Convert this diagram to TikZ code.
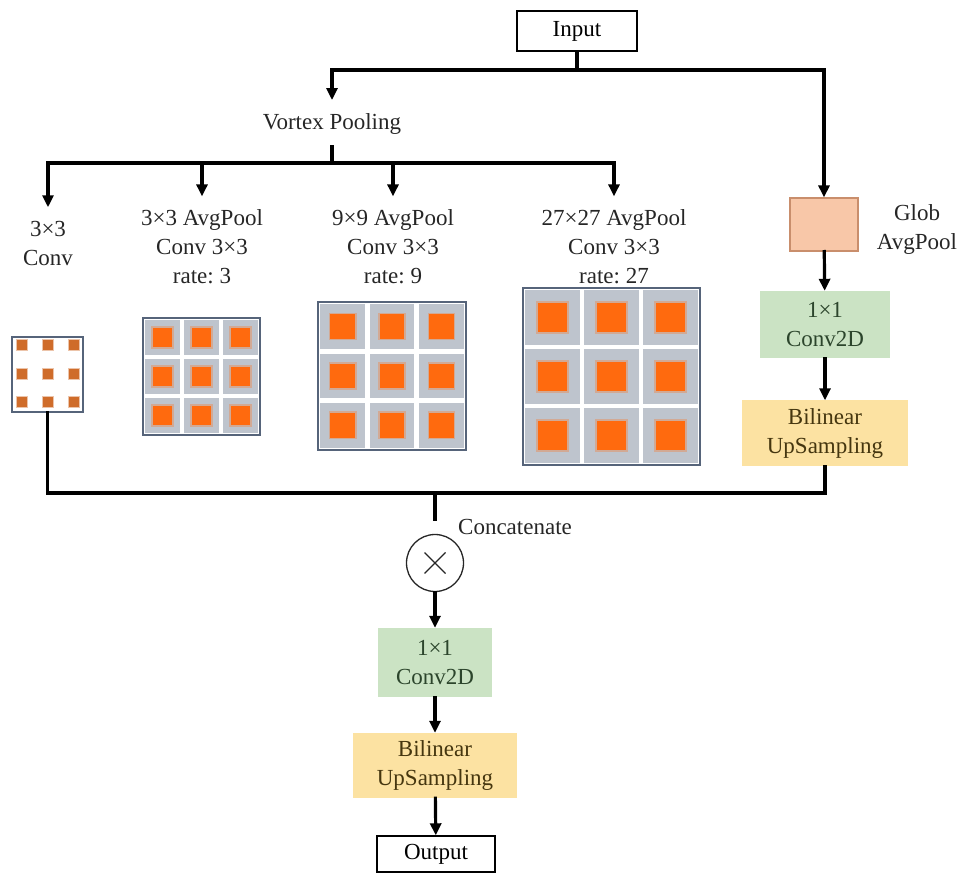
\documentclass[tikz,border=0pt]{standalone}
\usepackage{fontspec}
\setmainfont{Liberation Serif}
\usepackage{tikz}
\usetikzlibrary{arrows.meta, positioning, calc}
\usepackage{xcolor}
\definecolor{convgreen}{HTML}{CBE3C4}
\definecolor{convtext}{HTML}{2C452C}
\definecolor{upyellow}{HTML}{FCE2A2}
\definecolor{uptext}{HTML}{45360F}
\definecolor{globfill}{HTML}{F8C7A8}
\definecolor{globedge}{HTML}{C98E6C}
\definecolor{cellgrey}{HTML}{BEC4CD}
\definecolor{poolorange}{HTML}{FF6A0E}
\definecolor{dotbrown}{HTML}{CF6C2A}
\definecolor{gridedge}{HTML}{56647A}
\frenchspacing
\newcommand{\lblfont}{\fontsize{23}{29}\selectfont}
\tikzstyle{plain} = [rectangle, draw=black, line width=1.4pt, minimum width=120pt, minimum height=40pt,
    text centered, font=\lblfont]
\tikzstyle{conv} = [rectangle, fill=convgreen, minimum height=67pt, align=center,
    text=convtext, font=\lblfont]
\tikzstyle{upsmp} = [rectangle, fill=upyellow, minimum height=66pt, align=center,
    text=uptext, font=\lblfont]
\tikzstyle{glob} = [rectangle, fill=globfill, draw=globedge, line width=1.2pt,
    minimum width=68pt, minimum height=53pt]
\tikzstyle{gridbox} = [rectangle, draw=gridedge, line width=1.8pt, fill=white, inner sep=0pt]
\tikzstyle{arrow} = [line width=3.2pt, line cap=rect, -{Triangle[length=12pt,width=11pt]}]
\tikzstyle{line} = [line width=3.2pt, line cap=rect]
\tikzstyle{lbl} = [font=\lblfont, align=center, text=black!85, inner sep=3.3pt]
% one pooled feature map: name, centre x, centre y, size
\newcommand{\poolgrid}[4]{%
  \node (#1) [gridbox, minimum size=#4pt] at (#2,#3) {};
  \foreach \i in {0,1,2}{\foreach \j in {0,1,2}{
    \pgfmathsetmacro{\qx}{#2-#4/2+(\i+0.5)*#4/3}
    \pgfmathsetmacro{\qy}{#3-#4/2+(\j+0.5)*#4/3}
    \fill[cellgrey] (\qx-#4/6+2.2,\qy-#4/6+2.2) rectangle (\qx+#4/6-2.2,\qy+#4/6-2.2);
    \fill[poolorange!30!cellgrey] (\qx-#4/12-1.5,\qy-#4/12-1.5) rectangle (\qx+#4/12+1.5,\qy+#4/12+1.5);
    \fill[poolorange] (\qx-#4/12,\qy-#4/12) rectangle (\qx+#4/12,\qy+#4/12);
  }}%
}

\begin{document}
\begin{tikzpicture}[x=1pt, y=-1pt]
\useasboundingbox (0,0) rectangle (959,874);

\node (input) [plain] at (577,31) {Input};
\coordinate (split) at (577,70);
\node (vortex) [lbl] at (332,124) {Vortex Pooling};
\coordinate (vsplit) at (332,163);
\coordinate (barL) at (48,163);
\coordinate (barR) at (614,163);

% branch labels
\node (convlbl) [lbl] at (48,244) {3×3\\Conv};
\node (avg3) [lbl] at (202,247) {3×3 AvgPool\\Conv 3×3\\rate: 3};
\node (avg9) [lbl] at (393,247) {9×9 AvgPool\\Conv 3×3\\rate: 9};
\node (avg27) [lbl] at (614,247) {27×27 AvgPool\\Conv 3×3\\rate: 27};

% image pooling branch
\node (glob) [glob] at (824,224.5) {};
\node (globlbl) [lbl] at (917,229.6) {Glob\\AvgPool};
\node (conv1) [conv, minimum width=130pt] at (825,324.5) {1×1\\Conv2D};
\node (upsmp1) [upsmp, minimum width=166pt] at (825,433.5) {Bilinear\\UpSampling};

% feature maps
\node (convgrid) [gridbox, minimum width=71pt, minimum height=75pt] at (47.5,374.5) {};
\foreach \dx in {-26,0,26}{\foreach \dy in {-28.5,0,28.5}{
  \fill[dotbrown!40] (47.5+\dx-6,374+\dy-6) rectangle (47.5+\dx+6,374+\dy+6);
  \fill[dotbrown] (47.5+\dx-5,374+\dy-5) rectangle (47.5+\dx+5,374+\dy+5);
}}
\poolgrid{grid3}{201.5}{376.5}{117}
\poolgrid{grid9}{392}{376}{148}
\poolgrid{grid27}{611.5}{376.5}{177}

% merge
\coordinate (mbar) at (435,493);
\coordinate (mstub) at (435,519);
\node (cat) [circle, draw=black!85, line width=1.3pt, minimum size=57pt, inner sep=0pt] at (435,563) {};
\node (catlbl) [lbl] at (515,527) {Concatenate};
\node (conv2) [conv, minimum width=114pt, minimum height=69pt] at (435,662.5) {1×1\\Conv2D};
\node (upsmp2) [upsmp, minimum width=164pt, minimum height=65pt] at (435,765.5) {Bilinear\\UpSampling};
\node (output) [plain, minimum width=118pt, minimum height=36pt] at (436,854) {Output};

\draw[line] (input.south) -- (split);
\draw[arrow] (split) -| ([yshift=10pt]vortex.north);
\draw[arrow] (split) -| (glob.north);
\draw[line] ([yshift=-9pt]vortex.south) -- (vsplit);
\draw[line] (barL) -- (barR);
\draw[arrow] (barL) -- ([yshift=11pt]convlbl.north);
\foreach \b in {avg3, avg9, avg27}
  \draw[arrow] (\b.north |- barL) -- ([yshift=10pt]\b.north);

\draw[arrow] (glob) -- (conv1);
\draw[arrow] (conv1) -- (upsmp1);
\draw[line] (convgrid.south) |- (mbar) -| (upsmp1.south);
\draw[line] (mbar) -- (mstub);
\draw[line width=1.3pt, black!85] ($(cat.center)+(-10.5,-10.5)$) -- ($(cat.center)+(10.5,10.5)$);
\draw[line width=1.3pt, black!85] ($(cat.center)+(-10.5,10.5)$) -- ($(cat.center)+(10.5,-10.5)$);
\draw[arrow] (cat) -- (conv2);
\draw[arrow] (conv2) -- (upsmp2);
\draw[arrow] (upsmp2) -- (output);
\end{tikzpicture}
\end{document}
